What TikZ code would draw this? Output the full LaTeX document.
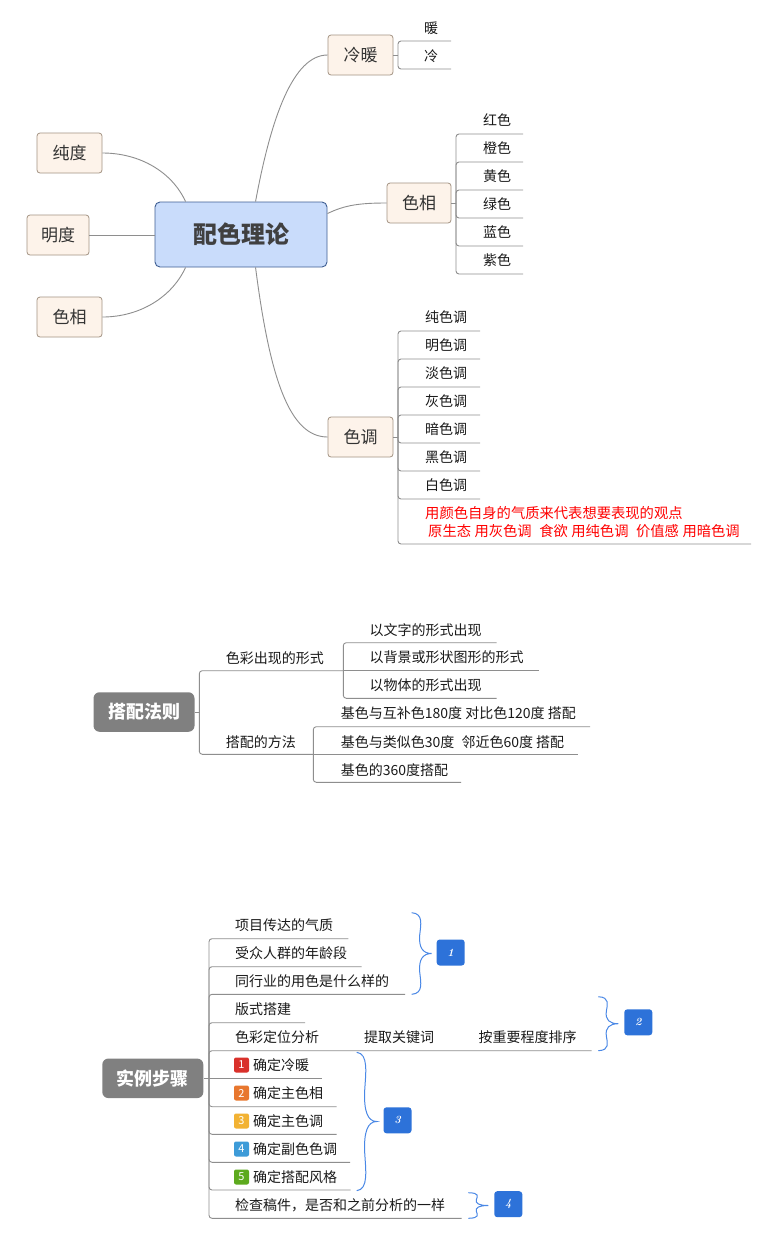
\documentclass[tikz,border=0pt]{standalone}
\usepackage{fontspec}
\newfontfamily\zh{Noto Sans CJK SC}
\usetikzlibrary{calc}
\definecolor{conncol}{HTML}{8E8E8E}
\definecolor{topicfill}{HTML}{FDF3EA}
\definecolor{topicdraw}{HTML}{A39383}
\definecolor{centfill}{HTML}{C9DCFB}
\definecolor{centdraw}{HTML}{3F5F93}
\definecolor{centtext}{HTML}{404040}
\definecolor{grayfill}{HTML}{808080}
\definecolor{labfill}{HTML}{2D72D9}
\definecolor{bracecol}{HTML}{4A88E6}
\definecolor{txt}{HTML}{1A1A1A}
\definecolor{redtxt}{HTML}{FF0000}
\definecolor{ic1}{HTML}{D9312B}
\definecolor{ic2}{HTML}{E8772E}
\definecolor{ic3}{HTML}{F2B233}
\definecolor{ic4}{HTML}{3D9BD8}
\definecolor{ic5}{HTML}{5DAA1E}
\tikzset{
  conn/.style={draw=conncol, line width=0.9pt},
  tree/.style={conn, rounded corners=3pt},
  topic/.style={draw=topicdraw, fill=topicfill, rounded corners=3pt, line width=0.8pt, inner sep=0pt, minimum height=40pt, minimum width=65pt, font=\zh\fontsize{17}{20}\selectfont, text=black!80},
  central/.style={draw=centdraw, fill=centfill, rounded corners=5pt, line width=0.9pt, inner sep=0pt, minimum width=172pt, minimum height=65pt, font=\zh\bfseries\fontsize{24}{28}\selectfont, text=centtext},
  leaf/.style={inner sep=0pt, font=\zh\fontsize{14}{16}\selectfont, text=txt},
  leafw/.style={leaf, anchor=west},
  graybox/.style={fill=grayfill, rounded corners=6pt, text=white, font=\zh\bfseries\fontsize{18}{20}\selectfont, inner sep=0pt, minimum height=39.5pt, minimum width=101pt},
  labbox/.style={fill=labfill, rounded corners=3pt, minimum width=28pt, minimum height=26pt, text=white, font=\bfseries\itshape\fontsize{11}{12}\selectfont, inner sep=0pt},
  icon/.style={rounded corners=2pt, minimum size=15pt, inner sep=0pt, text=white, font=\zh\fontsize{11}{12}\selectfont},
  curly/.pic={\draw[bracecol, line width=1pt] (0,0) .. controls (0.6,0.02) and (0.45,0.3) .. (0.4,0.55) .. controls (0.35,0.85) and (0.55,1) .. (1,1) .. controls (0.55,1) and (0.35,1.15) .. (0.4,1.45) .. controls (0.45,1.7) and (0.6,1.98) .. (0,2);},
}
\begin{document}
\begin{tikzpicture}[x=1pt,y=-1pt]
\fill[white] (0,0) rectangle (767,1235);
\useasboundingbox (0,0) rectangle (767,1235);

% ===== Diagram 1 =====
\node[central] (central) at (241,234.5) {配色理论};
\node[topic] (chundu) at (69.5,153) {纯度};
\node[topic, minimum width=62pt] (mingdu) at (58,235) {明度};
\node[topic] (sexiangL) at (69.5,317) {色相};
\node[topic] (lengnuan) at (360.5,55) {冷暖};
\node[topic, minimum width=64pt] (sexiangR) at (419,203) {色相};
\node[topic] (sediao) at (360.5,437) {色调};

\draw[conn] (chundu.east) .. controls (140,153) and (172,172) .. ([xshift=31pt]central.north west);
\draw[conn] (mingdu.east) -- (central.west |- mingdu.east);
\draw[conn] (sexiangL.east) .. controls (140,317) and (172,297) .. ([xshift=31pt]central.south west);
\draw[conn] ([xshift=101pt]central.north west) .. controls (271,118) and (293,55) .. (lengnuan.west);
\draw[conn] ([yshift=-12pt]central.north east) .. controls (345,205) and (360,203) .. (sexiangR.west);
\draw[conn] ([xshift=101pt]central.south west) .. controls (270,380) and (290,437) .. (sediao.west);

% 冷暖
\coordinate (lnJ) at (398,55);
\draw[conn] (lengnuan.east) -- (lnJ);
\node[leaf] (nuan) at (431,28) {暖};
\node[leaf] (leng) at (431,56) {冷};
\draw[tree] (lnJ) |- (451,41);
\draw[tree] (lnJ) |- (451,69);

% 色相 right
\coordinate (sxJ) at (456,203);
\draw[conn] (sexiangR.east) -- (sxJ);
\node[leaf] (hong) at (497,120) {红色};
\node[leaf] (cheng) at (497,148) {橙色};
\node[leaf] (huang) at (497,176) {黄色};
\node[leaf] (lv) at (497,204) {绿色};
\node[leaf] (lan) at (497,232) {蓝色};
\node[leaf] (zi) at (497,260) {紫色};
\foreach \u in {134,162,190,218,246,274}{\draw[tree] (sxJ) |- (523,\u);}

% 色调
\coordinate (sdJ) at (398,437);
\draw[conn] (sediao.east) -- (sdJ);
\node[leafw] (d1) at (425,317) {纯色调};
\node[leafw] (d2) at (425,345) {明色调};
\node[leafw] (d3) at (425,373) {淡色调};
\node[leafw] (d4) at (425,401) {灰色调};
\node[leafw] (d5) at (425,429) {暗色调};
\node[leafw] (d6) at (425,457) {黑色调};
\node[leafw] (d7) at (425,485) {白色调};
\foreach \u in {331,359,387,415,443,471,499}{\draw[tree] (sdJ) |- (480,\u);}
\node[leafw, text=redtxt, align=left, font=\zh\fontsize{14.3}{18}\selectfont] (dnote) at (425,522)
  {用颜色自身的气质来代表想要表现的观点\\\hspace*{3pt}原生态\hspace{3.5pt}用灰色调\hspace{7.5pt}食欲\hspace{3.5pt}用纯色调\hspace{7.5pt}价值感\hspace{3.5pt}用暗色调};
\draw[tree] (sdJ) |- (751,544);

% ===== Diagram 2 =====
\node[graybox] (dapei) at (144,712) {搭配法则};
\coordinate (dpJ) at (199.3,712);
\draw[conn] (dapei.east) -- (dpJ);
\node[leafw] (xs) at (225.7,658.3) {色彩出现的形式};
\node[leafw] (ff) at (225.7,741.7) {搭配的方法};
\coordinate (xsJ) at (343.3,670.7);
\coordinate (ffJ) at (313.3,754.3);
\draw[tree] (dpJ) |- (xsJ);
\draw[tree] (dpJ) |- (ffJ);
\node[leafw] (xs1) at (369.3,630) {以文字的形式出现};
\node[leafw] (xs2) at (369.3,657.3) {以背景或形状图形的形式};
\node[leafw] (xs3) at (369.3,685) {以物体的形式出现};
\draw[tree] (xsJ) |- (496.7,642.7);
\draw[tree] (xsJ) -- (539.3,670.7);
\draw[tree] (xsJ) |- (496.7,698.3);
\node[leafw] (ff1) at (340.7,713.3) {基色与互补色180度 对比色120度 搭配};
\node[leafw] (ff2) at (340.7,741.7) {基色与类似色30度\hspace{4pt} 邻近色60度 搭配};
\node[leafw] (ff3) at (340.7,770) {基色的360度搭配};
\draw[tree] (ffJ) |- (590,726.7);
\draw[tree] (ffJ) -- (578.3,754.3);
\draw[tree] (ffJ) |- (461,782.3);

% ===== Diagram 3 =====
\node[graybox] (shili) at (152.8,1078.3) {实例步骤};
\coordinate (slJ) at (209,1078.3);
\draw[conn] (shili.east) -- (slJ);
\node[leafw] (s1) at (235,925) {项目传达的气质};
\node[leafw] (s2) at (235,953) {受众人群的年龄段};
\node[leafw] (s3) at (235,981) {同行业的用色是什么样的};
\node[leafw] (s4) at (235,1009) {版式搭建};
\node[leafw] (s5) at (235,1037) {色彩定位分析};
\node[leafw] (s5a) at (364,1037) {提取关键词};
\node[leafw] (s5b) at (478.3,1037) {按重要程度排序};
\node[icon, fill=ic1] (i1) at (241.5,1065) {1};
\node[icon, fill=ic2] (i2) at (241.5,1093) {2};
\node[icon, fill=ic3] (i3) at (241.5,1121) {3};
\node[icon, fill=ic4] (i4) at (241.5,1149) {4};
\node[icon, fill=ic5] (i5) at (241.5,1177) {5};
\node[leafw] (s6) at (253,1065) {确定冷暖};
\node[leafw] (s7) at (253,1093) {确定主色相};
\node[leafw] (s8) at (253,1121) {确定主色调};
\node[leafw] (s9) at (253,1149) {确定副色色调};
\node[leafw] (s10) at (253,1177) {确定搭配风格};
\node[leafw] (s11) at (235,1205) {检查稿件，是否和之前分析的一样};
\draw[tree] (slJ) |- (348.3,938.7);
\draw[tree] (slJ) |- (361.7,966.7);
\draw[tree] (slJ) |- (405,994.3);
\draw[tree] (slJ) |- (305,1022.7);
\draw[tree] (slJ) |- (591.7,1050.7);
\draw[tree] (slJ) -- (322.3,1078.3);
\draw[tree] (slJ) |- (336.7,1106.7);
\draw[tree] (slJ) |- (336.7,1134.3);
\draw[tree] (slJ) |- (350,1162.3);
\draw[tree] (slJ) |- (350.7,1190);
\draw[tree] (slJ) |- (461.7,1218.3);

% braces and labels
\pic[xscale=20, yscale=40.8] at (411.7,912.7) {curly};
\pic[xscale=20, yscale=27] at (598.3,996.7) {curly};
\pic[xscale=20, yscale=69.2] at (356.7,1052.3) {curly};
\pic[xscale=20, yscale=12.8] at (468.3,1192.7) {curly};
\node[labbox] (L1) at (450.7,952.5) {1};
\node[labbox] (L2) at (638.3,1022.3) {2};
\node[labbox] (L3) at (397.5,1120.3) {3};
\node[labbox] (L4) at (508.3,1204.2) {4};
\end{tikzpicture}
\end{document}
